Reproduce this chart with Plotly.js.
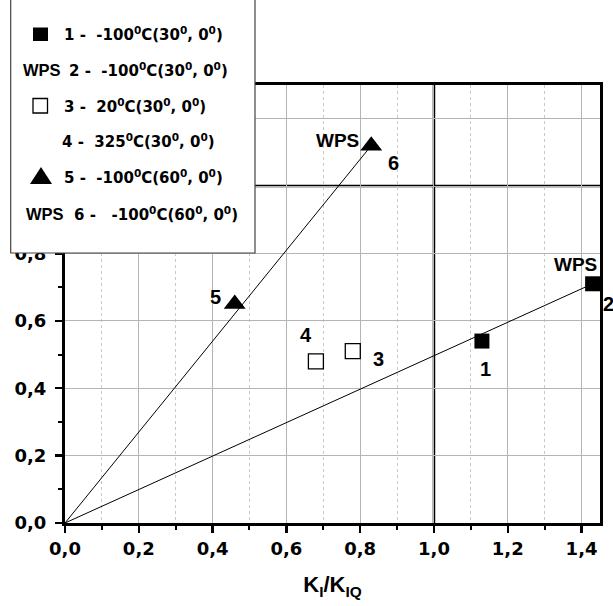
<!DOCTYPE html>
<html>
<head>
<meta charset="utf-8">
<script src="https://cdn.plot.ly/plotly-3.0.1.min.js"></script>
<style>html,body{margin:0;padding:0;background:#fff;}</style>
</head>
<body>
<div id="chart" style="width:613px;height:606px;"></div>
<script>
// ---- data ----
const pointIds = ['1', '2', '3', '4', '5', '6'];
const kRatio = [1.13, 1.43, 0.78, 0.68, 0.46, 0.83];   // K_I / K_IQ
const yValue = [0.54, 0.71, 0.51, 0.48, 0.65, 1.12];
const legendLabels = [
  '1 -  -100<sup>0</sup>C(30<sup>0</sup>, 0<sup>0</sup>)',
  '2 -  -100<sup>0</sup>C(30<sup>0</sup>, 0<sup>0</sup>)',
  '3 -  20<sup>0</sup>C(30<sup>0</sup>, 0<sup>0</sup>)',
  '4 -  325<sup>0</sup>C(30<sup>0</sup>, 0<sup>0</sup>)',
  '5 -  -100<sup>0</sup>C(60<sup>0</sup>, 0<sup>0</sup>)',
  '6 -   -100<sup>0</sup>C(60<sup>0</sup>, 0<sup>0</sup>)'
];
const xTickVals = [0, 0.2, 0.4, 0.6, 0.8, 1.0, 1.2, 1.4];
const yTickVals = [0, 0.2, 0.4, 0.6, 0.8, 1.0, 1.2];
const refX = 1.0, refY = 1.0;

// ---- helpers (layout only) ----
const W = 613, H = 606, ML = 65, MR = 13, MT = 85, MB = 83;
const pw = W - ML - MR, ph = H - MT - MB;
const px = x => (x - ML) / pw;
const py = y => (H - MB - y) / ph;

const sel = ids => ids.map(i => pointIds.indexOf(i));
const pick = (arr, ids) => sel(ids).map(i => arr[i]);

const traces = [
  {x: [0, kRatio[1]], y: [0, yValue[1]], mode: 'lines', line: {color: 'black', width: 1}, hoverinfo: 'skip'},
  {x: [0, kRatio[5]], y: [0, yValue[5]], mode: 'lines', line: {color: 'black', width: 1}, hoverinfo: 'skip'},
  {x: pick(kRatio, ['1', '2']), y: pick(yValue, ['1', '2']), mode: 'markers', cliponaxis: false,
   marker: {symbol: 'square', size: 15, color: 'black'}},
  {x: pick(kRatio, ['3', '4']), y: pick(yValue, ['3', '4']), mode: 'markers', cliponaxis: false,
   marker: {symbol: 'square', size: 15, color: 'white', line: {color: 'black', width: 1.3}}},
  {x: pick(kRatio, ['5', '6']), y: pick(yValue, ['5', '6']), mode: 'markers', cliponaxis: false,
   marker: {symbol: 'triangle-up', size: 19, color: 'black'}}
];

const lblFont = {family: 'Liberation Sans, Arial, sans-serif', size: 20, color: 'black', weight: 700};
const offsets = {
  '1': [4, -28], '2': [16, -20], '3': [26, -8], '4': [-10, 26], '5': [-19, 7], '6': [22, -17]
};
const annotations = [];
pointIds.forEach((id, i) => {
  annotations.push({x: kRatio[i], y: yValue[i], xref: 'x', yref: 'y', text: id, showarrow: false,
    xshift: offsets[id][0], yshift: offsets[id][1], font: lblFont});
});
annotations.push({x: kRatio[1], y: yValue[1], xref: 'x', yref: 'y', text: 'WPS', showarrow: false,
  xshift: -17, yshift: 19, font: {...lblFont, size: 19}});
annotations.push({x: kRatio[5], y: yValue[5], xref: 'x', yref: 'y', text: 'WPS', showarrow: false,
  xshift: -34, yshift: 5, font: {...lblFont, size: 19}});

// legend (custom)
const legFont = {family: 'DejaVu Sans', size: 15, color: 'black', weight: 700};
const wpsFont = {family: 'Liberation Sans, Arial, sans-serif', size: 16.5, color: 'black', weight: 700};
const rowBase = [41, 77, 113, 148, 184, 221];
const rowTextX = [62, 67, 62, 60, 62, 72];
legendLabels.forEach((t, i) => {
  annotations.push({x: px(rowTextX[i]), y: py(rowBase[i] + 5), xref: 'paper', yref: 'paper', text: t,
    showarrow: false, xanchor: 'left', yanchor: 'bottom', font: legFont});
});
[[21, 1], [24, 5]].forEach(([x, r]) => {
  annotations.push({x: px(x), y: py(rowBase[r] + 4), xref: 'paper', yref: 'paper', text: 'WPS',
    showarrow: false, xanchor: 'left', yanchor: 'bottom', font: wpsFont});
});

const shapes = [
  {type: 'line', xref: 'x', yref: 'paper', x0: refX, x1: refX, y0: 0, y1: 1, layer: 'between',
   line: {color: 'black', width: 2.5}},
  {type: 'line', xref: 'paper', yref: 'y', x0: 0, x1: 1, y0: refY, y1: refY, layer: 'between',
   line: {color: 'black', width: 2.5}},
  {type: 'rect', xref: 'paper', yref: 'paper', x0: px(10.7), x1: px(255), y0: py(253), y1: py(-5),
   layer: 'above', fillcolor: 'white', line: {color: '#444', width: 1.2}},
  // legend symbols
  {type: 'rect', xref: 'paper', yref: 'paper', x0: px(33), x1: px(48), y0: py(41), y1: py(27.5),
   layer: 'above', fillcolor: 'black', line: {color: 'black', width: 0}},
  {type: 'rect', xref: 'paper', yref: 'paper', x0: px(33), x1: px(47.5), y0: py(113), y1: py(98.5),
   layer: 'above', fillcolor: 'white', line: {color: 'black', width: 1.3}},
  {type: 'path', xref: 'paper', yref: 'paper', layer: 'above', fillcolor: 'black', line: {color: 'black', width: 0},
   path: 'M' + px(30) + ',' + py(184) + ' L' + px(41) + ',' + py(167) + ' L' + px(52) + ',' + py(184) + ' Z'}
];

const tickFont = {family: 'DejaVu Sans', size: 18, color: 'black', weight: 700};
const axisCommon = {
  showline: true, linecolor: 'black', linewidth: 3, mirror: true,
  ticks: 'outside', ticklen: 7, tickwidth: 2.5, tickcolor: 'black',
  showgrid: true, gridcolor: '#b4b4b4', gridwidth: 1, zeroline: false,
  tickfont: tickFont, tickformat: '.1f', fixedrange: true
};

const layout = {
  width: W, height: H,
  margin: {l: ML, r: MR, t: MT, b: MB},
  paper_bgcolor: 'white', plot_bgcolor: 'white',
  separators: ',.',
  showlegend: false,
  xaxis: {...axisCommon, range: [0, 1.45], tickvals: xTickVals, ticklabelstandoff: 0,
    minor: {dtick: 0.1, tick0: 0, ticks: 'outside', ticklen: 4, tickwidth: 2, tickcolor: 'black',
      showgrid: true, gridcolor: '#c8c8c8', griddash: 'dot', gridwidth: 1},
    title: {text: 'K<sub>I</sub>/K<sub>IQ</sub>', standoff: 20,
      font: {family: 'Liberation Sans, Arial, sans-serif', size: 22, color: 'black', weight: 700}}},
  yaxis: {...axisCommon, range: [0, 1.3], tickvals: yTickVals, ticklabelstandoff: 5,
    minor: {dtick: 0.1, tick0: 0, ticks: 'outside', ticklen: 4, tickwidth: 2, tickcolor: 'black', showgrid: false}},
  shapes: shapes,
  annotations: annotations
};

Plotly.newPlot('chart', traces, layout, {displayModeBar: false, staticPlot: true});
</script>
</body>
</html>
